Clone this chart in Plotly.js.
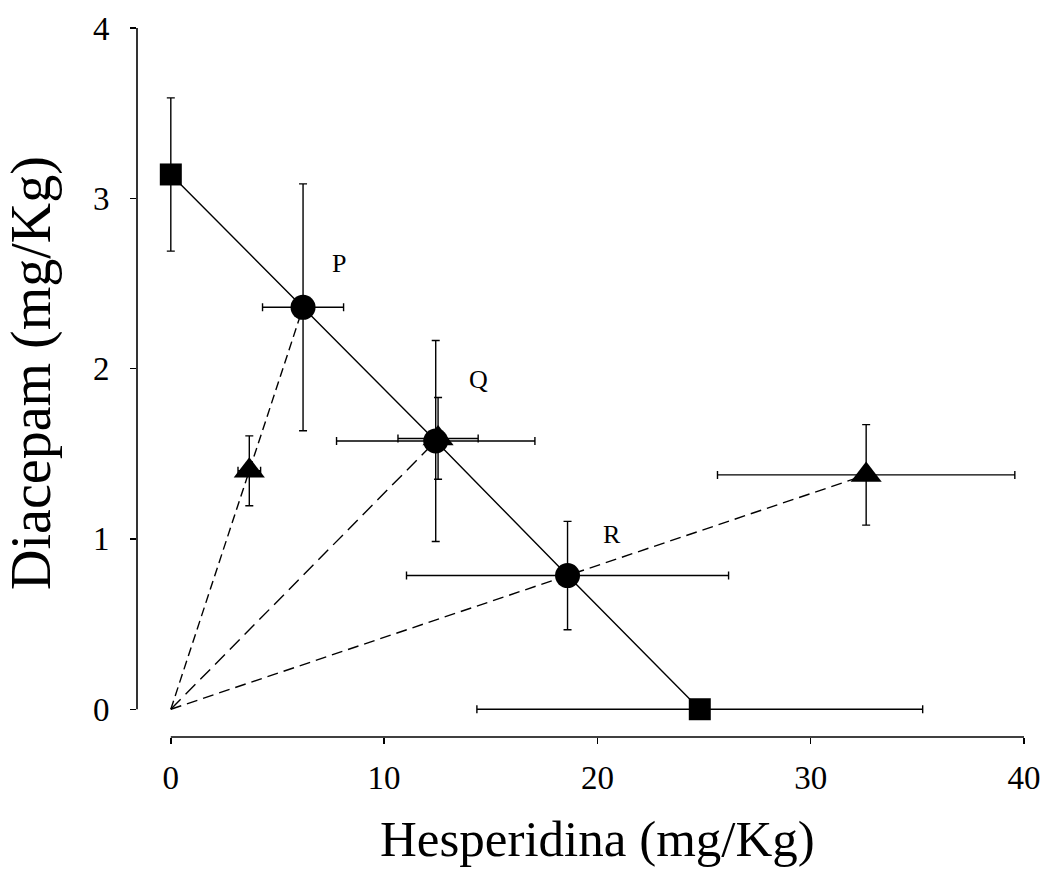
<!DOCTYPE html>
<html>
<head>
<meta charset="utf-8">
<script src="https://cdn.plot.ly/plotly-3.0.1.min.js"></script>
<style>html,body{margin:0;padding:0;background:#fff;}#chart{width:1043px;height:884px;}</style>
</head>
<body>
<div id="chart"></div>
<script>
// Data
const origin = [0, 0];
const squaresX = [0, 24.8];
const squaresY = [3.14, 0];
const squaresXErr = [0, 10.45];
const squaresYErr = [0.45, 0];

const circlesX = [6.2, 12.42, 18.6];
const circlesY = [2.36, 1.575, 0.785];
const circlesXErr = [1.9, 4.65, 7.55];
const circlesYErr = [0.725, 0.59, 0.318];
const circleLabels = ["P", "Q", "R"];

const trianglesX = [3.68, 12.53, 32.6];
const trianglesY = [1.40, 1.59, 1.376];
const trianglesXErr = [0.53, 1.88, 6.97];
const trianglesYErr = [0.205, 0.24, 0.295];

const xTicks = [0, 10, 20, 30, 40];
const yTicks = [0, 1, 2, 3, 4];
const xTitle = 'Hesperidina (mg/Kg)';
const yTitle = 'Diacepam (mg/Kg)';

const FONT = '"Liberation Serif", "Times New Roman", serif';

// solid line: square -> circles -> square
const lineX = [squaresX[0]].concat(circlesX, [squaresX[1]]);
const lineY = [squaresY[0]].concat(circlesY, [squaresY[1]]);

function errs(arr, thick) {
  return {type: 'data', array: arr, visible: true, color: '#000', thickness: thick || 1.4, width: 4};
}

const traces = [
  {x: lineX, y: lineY, mode: 'lines', line: {color: '#000', width: 1.4}, hoverinfo: 'skip', showlegend: false},
  {x: [origin[0], circlesX[0]], y: [origin[1], circlesY[0]], mode: 'lines', line: {color: '#000', width: 1.4, dash: '9px,5px'}, showlegend: false},
  {x: [origin[0], circlesX[1]], y: [origin[1], circlesY[1]], mode: 'lines', line: {color: '#000', width: 1.4, dash: '14px,7px'}, showlegend: false},
  {x: [origin[0], trianglesX[2]], y: [origin[1], trianglesY[2]], mode: 'lines', line: {color: '#000', width: 1.4, dash: '11px,6px'}, showlegend: false},
  {x: trianglesX, y: trianglesY, mode: 'markers', marker: {symbol: 'triangle-up', size: 27, color: '#000'},
   error_x: errs(trianglesXErr), error_y: errs(trianglesYErr), showlegend: false, cliponaxis: false},
  {x: squaresX, y: squaresY, mode: 'markers', marker: {symbol: 'square', size: 22, color: '#000'},
   error_x: errs(squaresXErr), error_y: errs(squaresYErr), showlegend: false, cliponaxis: false},
  {x: circlesX, y: circlesY, mode: 'markers', marker: {symbol: 'circle', size: 25, color: '#000'},
   error_x: errs(circlesXErr), error_y: errs(circlesYErr), showlegend: false, cliponaxis: false}
];

const labelOffsets = [[1.7, 0.26], [2.0, 0.36], [2.1, 0.24]];
const annotations = circleLabels.map((t, i) => ({
  x: circlesX[i] + labelOffsets[i][0], y: circlesY[i] + labelOffsets[i][1],
  text: t, showarrow: false, font: {family: FONT, size: 26, color: '#000'}
}));
annotations.push({
  xref: 'x', yref: 'paper', x: (xTicks[0] + xTicks[xTicks.length - 1]) / 2, y: 0,
  xanchor: 'center', yanchor: 'middle', yshift: -102, showarrow: false,
  text: xTitle, font: {family: FONT, size: 51, color: '#000'}
});
annotations.push({
  xref: 'paper', yref: 'y', x: 0, y: 1.975, xanchor: 'center', yanchor: 'middle',
  xshift: -105, textangle: -90, showarrow: false,
  text: yTitle, font: {family: FONT, size: 56, color: '#000'}
});

const layout = {
  width: 1043, height: 884,
  margin: {l: 137, r: 19, t: 28, b: 147},
  paper_bgcolor: '#fff', plot_bgcolor: '#fff',
  font: {family: FONT, color: '#000'},
  showlegend: false,
  xaxis: {
    range: [-1.585, 40], tickvals: xTicks, ticktext: xTicks.map(String),
    showgrid: false, zeroline: false, showline: false,
    ticks: 'outside', ticklen: 6, tickwidth: 1.4, tickcolor: '#000',
    tickfont: {family: FONT, size: 33, color: '#000'}, ticklabelstandoff: 5
  },
  yaxis: {
    range: [-0.163, 4], tickvals: yTicks, ticktext: yTicks.map(String),
    showgrid: false, zeroline: false, showline: false,
    ticks: 'outside', ticklen: 6, tickwidth: 1.4, tickcolor: '#000',
    tickfont: {family: FONT, size: 33, color: '#000'}, ticklabelstandoff: 14
  },
  shapes: [
    {type: 'line', xref: 'paper', yref: 'y', x0: 0, x1: 0, y0: yTicks[0], y1: yTicks[yTicks.length - 1], line: {color: '#000', width: 1.6}},
    {type: 'line', xref: 'x', yref: 'paper', x0: xTicks[0], x1: xTicks[xTicks.length - 1], y0: 0, y1: 0, line: {color: '#000', width: 1.6}}
  ],
  annotations: annotations
};

Plotly.newPlot('chart', traces, layout, {displayModeBar: false, staticPlot: true});
</script>
</body>
</html>
